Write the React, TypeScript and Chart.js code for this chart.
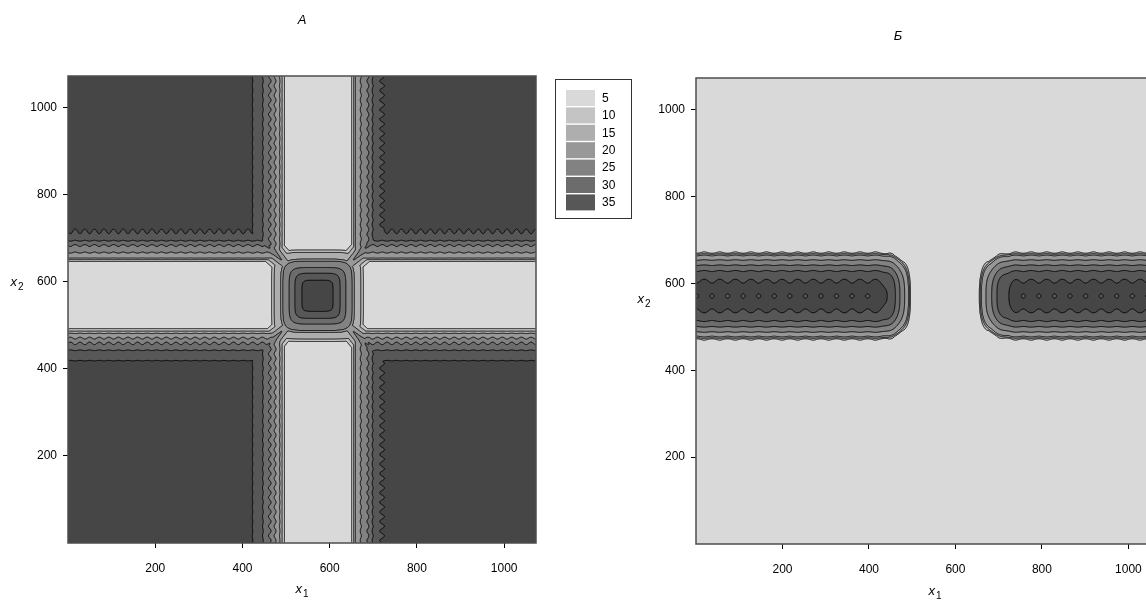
import React, { useEffect, useRef } from 'react';
import { Chart, registerables } from 'chart.js';

Chart.register(...registerables);

const FONT = '"Liberation Sans", Arial, sans-serif';

// shared axis range and tick positions
const axisMin = 0;
const axisMax = 1073;
const tickValues = [200, 400, 600, 800, 1000];

// contour levels; each fill colours the interval just below its level, topFill is above 35
const levels = [5, 10, 15, 20, 25, 30, 35];
const levelFills = ['#d9d9d9', '#c4c4c4', '#aeaeae', '#989898', '#828282', '#6c6c6c', '#575757'];
const topFill = '#464646';

// panel А: value across a band (signed offset from the band axis)
const bandAxisX1 = 574;
const bandAxisX2 = 570;
const bandOffsets = [-230, -172, -151, -127, -111, -99, -88, -83, -79, 0, 78, 81, 84, 97, 114, 124, 146, 168, 230];
const bandValues = [40, 40, 35, 30, 25, 20, 15, 10, 5, 2, 5, 10, 15, 20, 25, 30, 35, 40, 40];
// ripple amplitude along the band edges
const bandRippleOffsets = [-230, -160, -146, -127, -118, -111, -99, -90, -80, 80, 90, 100, 114, 124, 135, 146, 156, 170, 230];
const bandRippleValues = [0, 0, 0.2, 0.2, 0.9, 1.1, 1.0, 0.4, 0, 0, 0.2, 0.5, 0.9, 0.3, 0.9, 1.5, 1.0, 0, 0];
const bandRipplePeriod = 22;

// panel А: block where the two bands cross (value vs. rounded-square radius)
const crossCentreX1 = 572;
const crossCentreX2 = 568;
const crossRadii = [0, 28, 36, 52, 65, 80, 84, 100, 105, 115];
const crossValues = [38, 36.5, 35, 30, 25, 20, 15, 10, 5, 0];
// ridges running out along the diagonals from the block corners
const diagonalRadii = [80, 100, 130, 160];
const diagonalValues = [20, 23, 31, 37];
const diagonalHalfWidth = 34;

// panel Б: two horizontal bars along x2 = 571
const barAxisX2 = 571;
const leftBarEnd = 413;
const rightBarStart = 754;
const leftEndStretch = 1.2;
const rightEndStretch = 1.0;
const barDistances = [0, 8, 16, 35, 58, 71, 83, 94, 97, 99, 104, 200];
const barValues = [36.4, 37.4, 38, 35, 30, 25, 20, 15, 10, 5, 2, 2];
const barRippleDistances = [0, 6, 14, 28, 35, 45, 60, 90, 97, 100, 106, 200];
const barRippleValues = [2.4, 2.0, 0.4, 0.8, 0.9, 0.6, 0.3, 0.3, 1.5, 2.2, 0, 0];
const barRipplePeriod = 36;
const barRippleOrigin = 757;

function profile(xs: number[], ys: number[]) {
  const n = xs.length;
  return (v: number) => {
    if (v <= xs[0]) return ys[0];
    if (v >= xs[n - 1]) return ys[n - 1];
    let i = 1;
    while (xs[i] < v) i++;
    const t = (v - xs[i - 1]) / (xs[i] - xs[i - 1]);
    return ys[i - 1] + t * (ys[i] - ys[i - 1]);
  };
}

const bandProfile = profile(bandOffsets, bandValues);
const bandRipple = profile(bandRippleOffsets, bandRippleValues);
const crossProfile = profile(crossRadii, crossValues);
const diagonalProfile = profile(diagonalRadii, diagonalValues);
const barProfile = profile(barDistances, barValues);
const barRipple = profile(barRippleDistances, barRippleValues);

function fieldA(x1: number, x2: number) {
  const k = (2 * Math.PI) / bandRipplePeriod;
  const sx = x1 - bandAxisX1;
  const sy = x2 - bandAxisX2;
  const vert = bandProfile(sx) + bandRipple(sx) * Math.sin(k * x2);
  const horiz = bandProfile(sy) + bandRipple(sy) * Math.sin(k * x1);
  const dx = Math.abs(x1 - crossCentreX1);
  const dy = Math.abs(x2 - crossCentreX2);
  const r = Math.pow(Math.pow(dx, 6) + Math.pow(dy, 6), 1 / 6);
  const q = Math.abs(dx - dy) / Math.SQRT2;
  const ridge = diagonalProfile(Math.max(dx, dy)) * Math.max(0, 1 - q / diagonalHalfWidth);
  return Math.max(Math.min(vert, horiz), crossProfile(r), ridge);
}

function fieldB(x1: number, x2: number) {
  const dy = Math.abs(x2 - barAxisX2);
  const dl = Math.max(0, x1 - leftBarEnd) * leftEndStretch;
  const dr = Math.max(0, rightBarStart - x1) * rightEndStretch;
  const dL = Math.cbrt(dl * dl * dl + dy * dy * dy);
  const dR = Math.cbrt(dr * dr * dr + dy * dy * dy);
  const d = Math.min(dL, dR);
  const phase = (2 * Math.PI * (x1 - barRippleOrigin)) / barRipplePeriod;
  return barProfile(d) - barRipple(d) * Math.cos(phase);
}

function hexRgb(hex: string) {
  return [parseInt(hex.slice(1, 3), 16), parseInt(hex.slice(3, 5), 16), parseInt(hex.slice(5, 7), 16)];
}

// filled contours plus iso-lines, sampled at every pixel of the plot area via the chart scales
function contourPlugin(field: (x1: number, x2: number) => number) {
  return {
    id: 'contourField',
    beforeDatasetsDraw(chart: any) {
      const { ctx, chartArea, scales } = chart;
      const xs = scales.x;
      const ys = scales.y;
      const left = Math.round(chartArea.left);
      const top = Math.round(chartArea.top);
      const w = Math.round(chartArea.right) - left;
      const h = Math.round(chartArea.bottom) - top;
      const gx = new Float64Array(w);
      const gy = new Float64Array(h);
      for (let i = 0; i < w; i++) gx[i] = xs.getValueForPixel(left + i + 0.5);
      for (let j = 0; j < h; j++) gy[j] = ys.getValueForPixel(top + j + 0.5);
      const vals = new Float32Array(w * h);
      for (let j = 0; j < h; j++) {
        for (let i = 0; i < w; i++) vals[j * w + i] = field(gx[i], gy[j]);
      }

      const palette = [...levelFills, topFill].map(hexRgb);
      const off = document.createElement('canvas');
      off.width = w;
      off.height = h;
      const octx = off.getContext('2d') as CanvasRenderingContext2D;
      const img = octx.createImageData(w, h);
      for (let p = 0; p < w * h; p++) {
        let k = 0;
        while (k < levels.length && vals[p] >= levels[k]) k++;
        const c = palette[k];
        img.data[p * 4] = c[0];
        img.data[p * 4 + 1] = c[1];
        img.data[p * 4 + 2] = c[2];
        img.data[p * 4 + 3] = 255;
      }
      octx.putImageData(img, 0, 0);
      ctx.drawImage(off, left, top);

      ctx.save();
      ctx.beginPath();
      ctx.rect(left, top, w, h);
      ctx.clip();
      ctx.beginPath();
      const px = new Float64Array(4);
      const py = new Float64Array(4);
      const ox = left + 0.5;
      const oy = top + 0.5;
      for (const L of levels) {
        for (let j = 0; j < h - 1; j++) {
          const r0 = j * w;
          const r1 = r0 + w;
          for (let i = 0; i < w - 1; i++) {
            const a = vals[r0 + i];
            const b = vals[r0 + i + 1];
            const c = vals[r1 + i + 1];
            const d = vals[r1 + i];
            const ia = a >= L, ib = b >= L, ic = c >= L, id = d >= L;
            if (ia === ib && ib === ic && ic === id) continue;
            let n = 0;
            if (ia !== ib) { px[n] = i + (L - a) / (b - a); py[n] = j; n++; }
            if (ib !== ic) { px[n] = i + 1; py[n] = j + (L - b) / (c - b); n++; }
            if (id !== ic) { px[n] = i + (L - d) / (c - d); py[n] = j + 1; n++; }
            if (ia !== id) { px[n] = i; py[n] = j + (L - a) / (d - a); n++; }
            if (n >= 2) {
              ctx.moveTo(ox + px[0], oy + py[0]);
              ctx.lineTo(ox + px[1], oy + py[1]);
            }
            if (n === 4) {
              ctx.moveTo(ox + px[2], oy + py[2]);
              ctx.lineTo(ox + px[3], oy + py[3]);
            }
          }
        }
      }
      ctx.strokeStyle = '#000';
      ctx.lineWidth = 0.9;
      ctx.stroke();
      ctx.restore();

      ctx.save();
      ctx.strokeStyle = '#4d4d4d';
      ctx.lineWidth = 1.5;
      ctx.strokeRect(left, top, w, h);
      ctx.restore();
    },
  };
}

function drawSubscripted(ctx: CanvasRenderingContext2D, base: string, sub: string, cx: number, baseline: number) {
  ctx.font = `italic 13px ${FONT}`;
  const wb = ctx.measureText(base).width;
  ctx.font = `10px ${FONT}`;
  const ws = ctx.measureText(sub).width;
  const x0 = cx - (wb + ws + 1) / 2;
  ctx.fillStyle = '#000';
  ctx.textAlign = 'left';
  ctx.textBaseline = 'alphabetic';
  ctx.font = `italic 13px ${FONT}`;
  ctx.fillText(base, x0, baseline);
  ctx.font = `10px ${FONT}`;
  ctx.fillText(sub, x0 + wb + 1, baseline + 4);
}

function axisTitlePlugin(spec: PanelSpec) {
  return {
    id: 'axisTitles',
    afterDraw(chart: any) {
      const { ctx, chartArea: a } = chart;
      ctx.save();
      drawSubscripted(ctx, 'x', '1', (a.left + a.right) / 2 + spec.x1Shift, a.bottom + spec.x1Drop);
      drawSubscripted(ctx, 'x', '2', spec.x2Centre, spec.x2Baseline);
      ctx.restore();
    },
  };
}

// key of contour levels beside panel А
const levelKeyPlugin = {
  id: 'levelKey',
  afterDraw(chart: any) {
    const { ctx, chartArea: a } = chart;
    const bx = Math.round(a.right) + 19;
    const by = Math.round(a.top) + 3;
    ctx.save();
    ctx.strokeStyle = '#333';
    ctx.lineWidth = 1;
    ctx.strokeRect(bx + 0.5, by + 0.5, 76, 139);
    ctx.font = `12px ${FONT}`;
    ctx.textBaseline = 'middle';
    ctx.textAlign = 'left';
    levels.forEach((lv, k) => {
      const y = by + 11 + k * 17.4;
      ctx.fillStyle = levelFills[k];
      ctx.fillRect(bx + 11, y, 29, 16);
      ctx.fillStyle = '#000';
      ctx.fillText(String(lv), bx + 47, y + 8.5);
    });
    ctx.restore();
  },
};

type PanelSpec = {
  title: string;
  field: (x1: number, x2: number) => number;
  canvasLeft: number;
  canvasWidth: number;
  yAxisWidth: number;
  xAxisHeight: number;
  padRight: number;
  titleTop: number;
  titleBottom: number;
  titleFullSize: boolean;
  x1Shift: number;
  x1Drop: number;
  x2Centre: number;
  x2Baseline: number;
  key: boolean;
};

const panels: PanelSpec[] = [
  {
    title: 'А', field: fieldA, canvasLeft: 0, canvasWidth: 636, yAxisWidth: 68, xAxisHeight: 58,
    padRight: 100, titleTop: 12.2, titleBottom: 48.2, titleFullSize: false,
    x1Shift: 0, x1Drop: 50, x2Centre: 17, x2Baseline: 286, key: true,
  },
  {
    title: 'Б', field: fieldB, canvasLeft: 636, canvasWidth: 540, yAxisWidth: 60, xAxisHeight: 57,
    padRight: 16, titleTop: 28.2, titleBottom: 34.2, titleFullSize: true,
    x1Shift: 7, x1Drop: 51, x2Centre: 8, x2Baseline: 303, key: false,
  },
];

function axisOptions(spec: PanelSpec, horizontal: boolean) {
  return {
    type: 'linear',
    min: axisMin,
    max: axisMax,
    afterBuildTicks: (s: any) => {
      s.ticks = tickValues.map((value) => ({ value }));
    },
    afterFit: (s: any) => {
      if (horizontal) s.height = spec.xAxisHeight;
      else s.width = spec.yAxisWidth;
    },
    grid: { drawOnChartArea: false, drawTicks: true, tickLength: 5, color: '#000', lineWidth: 1 },
    border: { display: false },
    ticks: {
      autoSkip: false,
      maxRotation: 0,
      color: '#000',
      padding: horizontal ? 13 : 6,
      font: { family: FONT, size: 12 },
      callback: (v: any) => String(v),
    },
  };
}

function Panel({ spec }: { spec: PanelSpec }) {
  const ref = useRef<HTMLCanvasElement>(null);
  useEffect(() => {
    if (!ref.current) return;
    const plugins: any[] = [contourPlugin(spec.field), axisTitlePlugin(spec)];
    if (spec.key) plugins.push(levelKeyPlugin);
    const chart = new Chart(ref.current, {
      type: 'scatter',
      data: { datasets: [{ data: [] }] },
      options: {
        responsive: false,
        animation: false,
        events: [],
        layout: { padding: { left: 0, top: 0, bottom: 0, right: spec.padRight } },
        plugins: {
          legend: { display: false },
          tooltip: { enabled: false },
          title: {
            display: true,
            text: spec.title,
            fullSize: spec.titleFullSize,
            color: '#000',
            font: { family: FONT, size: 13, style: 'italic', weight: 'normal', lineHeight: 1.2 },
            padding: { top: spec.titleTop, bottom: spec.titleBottom },
          },
        },
        scales: {
          x: axisOptions(spec, true),
          y: axisOptions(spec, false),
        },
      } as any,
      plugins,
    });
    return () => chart.destroy();
  }, [spec]);
  return (
    <canvas
      ref={ref}
      width={spec.canvasWidth}
      height={601}
      style={{ position: 'absolute', left: spec.canvasLeft, top: 0 }}
    />
  );
}

export default function App() {
  useEffect(() => {
    document.body.style.margin = '0';
    document.body.style.overflow = 'hidden';
  }, []);
  return (
    <div style={{ position: 'relative', width: 1146, height: 601, overflow: 'hidden', background: '#fff' }}>
      {panels.map((p) => (
        <Panel key={p.title} spec={p} />
      ))}
    </div>
  );
}
